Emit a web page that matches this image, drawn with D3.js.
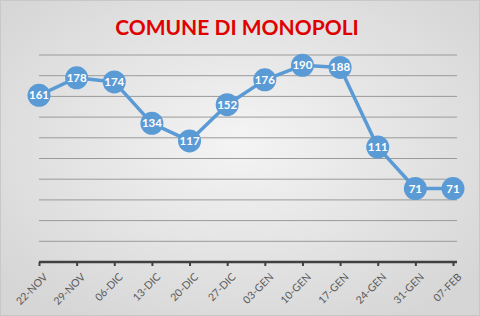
<!DOCTYPE html>
<html>
<head>
<meta charset="utf-8">
<script src="https://cdn.jsdelivr.net/npm/d3@7"></script>
<style>
  html, body { margin: 0; padding: 0; background: #fff; }
  svg { display: block; }
</style>
</head>
<body>
<div id="chart"></div>
<script>
var title = "COMUNE DI MONOPOLI";
var dates = ["22-NOV", "29-NOV", "06-DIC", "13-DIC", "20-DIC", "27-DIC",
             "03-GEN", "10-GEN", "17-GEN", "24-GEN", "31-GEN", "07-FEB"];
var values = [161, 178, 174, 134, 117, 152, 176, 190, 188, 111, 71, 71];
var yTicks = [0, 20, 40, 60, 80, 100, 120, 140, 160, 180, 200];

(function drawChart(){
  var W = 480, H = 316;
  var margin = {top: 55, right: 23, bottom: 54, left: 39};
  var width = W - margin.left - margin.right;
  var height = H - margin.top - margin.bottom;

  var svg = d3.select("#chart")
    .append("svg")
      .attr("width", W)
      .attr("height", H);

  var defs = svg.append("defs");
  var grad = defs.append("radialGradient")
      .attr("id", "bg")
      .attr("cx", "50%").attr("cy", "45%").attr("r", "65%");
  grad.append("stop").attr("offset", "0%").attr("stop-color", "#f4f4f4");
  grad.append("stop").attr("offset", "100%").attr("stop-color", "#d6d6d6");

  svg.append("rect")
    .attr("width", W).attr("height", H)
    .attr("fill", "url(#bg)");
  svg.append("rect")
    .attr("x", 0.5).attr("y", 0.5)
    .attr("width", W - 1).attr("height", H - 1)
    .attr("fill", "none")
    .attr("stroke", "#c8c8c8");

  svg.append("text")
    .attr("x", 237)
    .attr("y", 35)
    .attr("text-anchor", "middle")
    .attr("font-family", "Lato, 'Open Sans', sans-serif")
    .attr("font-weight", "bold")
    .attr("font-size", "21px")
    .attr("fill", "#e00000")
    .text(title);

  var g = svg.append("g")
    .attr("transform", "translate(" + [margin.left, margin.top] + ")");

  var x = d3.scalePoint()
    .domain(dates)
    .range([0, width - 4]);

  var y = d3.scaleLinear()
    .domain([0, 200])
    .range([height, 0]);

  // gridlines
  g.selectAll(".grid")
    .data(yTicks.slice(1))
    .enter().append("line")
      .attr("class", "grid")
      .attr("x1", 0).attr("x2", width)
      .attr("y1", function(d){ return y(d); })
      .attr("y2", function(d){ return y(d); })
      .attr("stroke", "#9a9a9a")
      .attr("stroke-width", 1);

  var xAxis = d3.axisBottom(x)
    .tickSize(4)
    .tickPadding(6);

  var ax = g.append("g")
    .attr("class", "x axis")
    .attr("transform", "translate(0," + height + ")")
    .call(xAxis);

  ax.select(".domain").remove();
  ax.append("line")
    .attr("x1", 0).attr("x2", width)
    .attr("stroke", "#404040")
    .attr("stroke-width", 2.5);
  ax.selectAll(".tick line")
    .attr("stroke", "#404040")
    .attr("stroke-width", 2);
  ax.selectAll(".tick text")
    .attr("font-family", "Lato, 'Open Sans', sans-serif")
    .attr("font-size", "10.5px")
    .attr("fill", "#595959")
    .attr("text-anchor", "end")
    .attr("dx", "0.3em")
    .attr("dy", "0.6em")
    .attr("transform", "rotate(-45) translate(-8,1)");

  var line = d3.line()
    .x(function(d, i){ return x(dates[i]); })
    .y(function(d){ return y(d); });

  g.append("path")
    .datum(values)
    .attr("d", line)
    .attr("fill", "none")
    .attr("stroke", "#5b9bd5")
    .attr("stroke-width", 3.5)
    .attr("stroke-linejoin", "round");

  var pts = g.selectAll(".pt")
    .data(values)
    .enter().append("g")
      .attr("class", "pt")
      .attr("transform", function(d, i){
        return "translate(" + [x(dates[i]), y(d)] + ")";
      });

  pts.append("circle")
    .attr("r", 11.5)
    .attr("fill", "#5b9bd5");

  pts.append("text")
    .attr("text-anchor", "middle")
    .attr("dy", "0.35em")
    .attr("font-family", "Lato, 'Open Sans', sans-serif")
    .attr("font-weight", "bold")
    .attr("font-size", "11.5px")
    .attr("fill", "#ffffff")
    .text(function(d){ return d; });
})();
</script>
</body>
</html>
